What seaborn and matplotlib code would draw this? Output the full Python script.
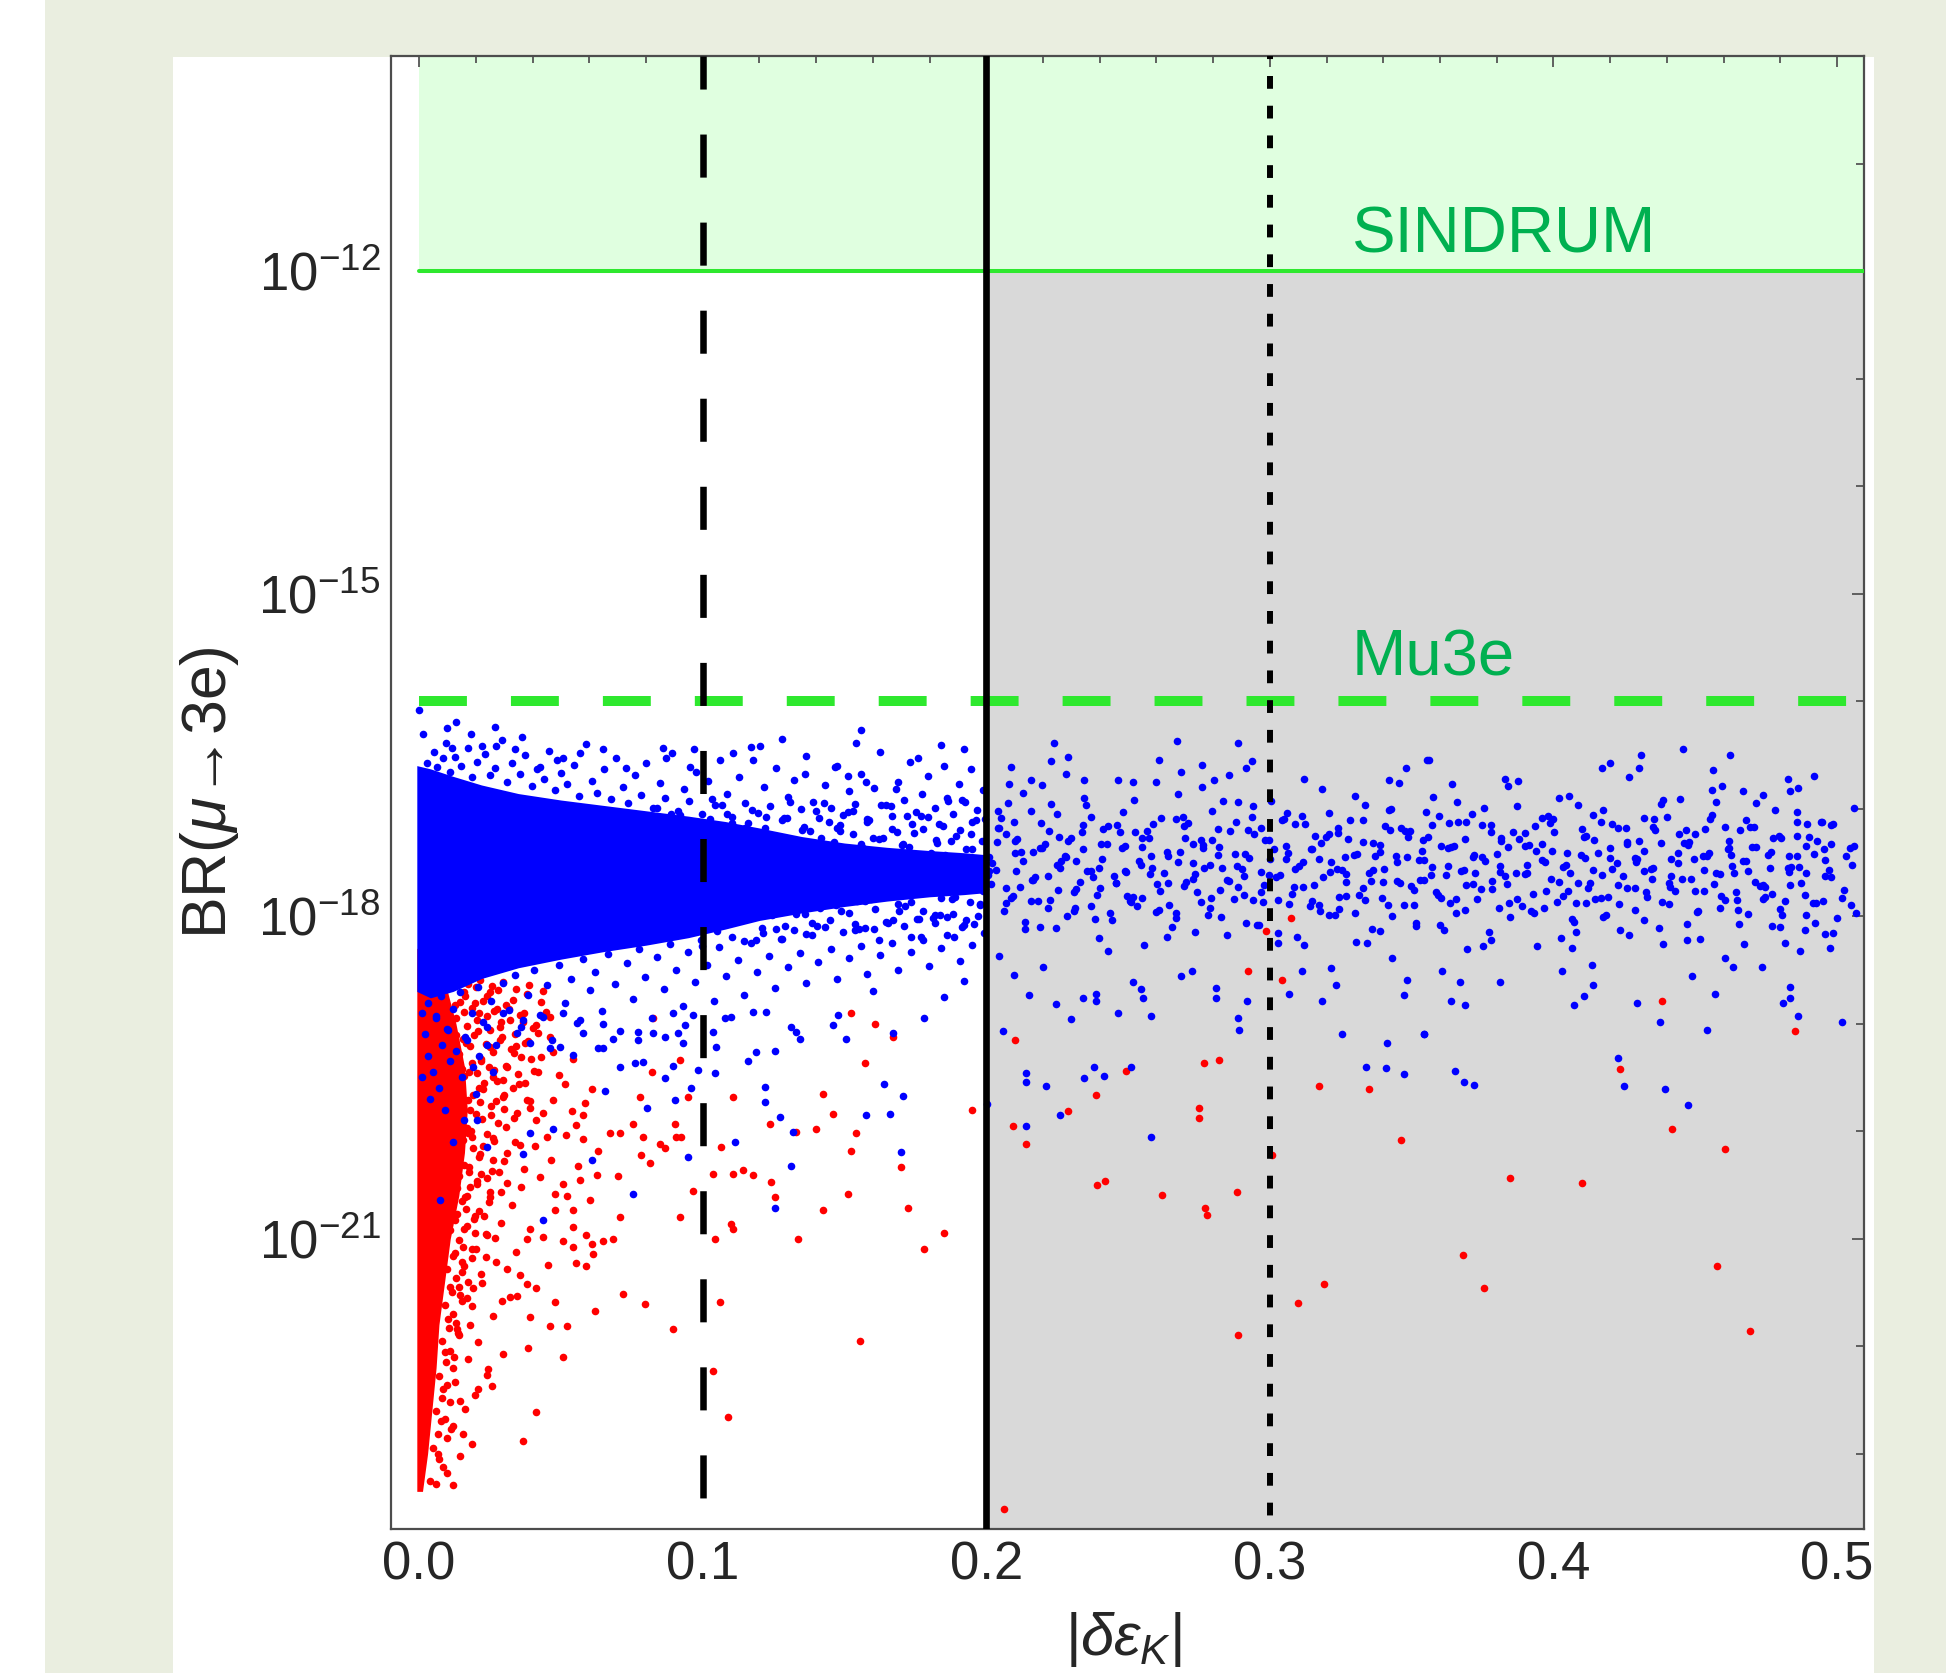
import pandas as pd
import matplotlib
matplotlib.use('Agg')
import matplotlib.pyplot as plt
from matplotlib.patches import Rectangle
from matplotlib.ticker import FixedLocator, FixedFormatter, NullFormatter
import seaborn as sns

# ---- axis ranges, limits and tick labels ----
x_range = (-0.0099, 0.5095)
exp_range = (-23.7, -10.0)          # log10 of the BR axis
sindrum_exp = -12                   # SINDRUM bound
mu3e_exp = -16                      # Mu3e reach
x_cut_lines = [0.1, 0.2, 0.3]
x_ticks = [0.0, 0.1, 0.2, 0.3, 0.4, 0.5]
x_tick_labels = ['0.0', '0.1', '0.2', '0.3', '0.4', '0.5']
y_tick_exps = [-12, -15, -18, -21]
y_tick_labels = [r'$\mathregular{10^{-12}}$', r'$\mathregular{10^{-15}}$',
                 r'$\mathregular{10^{-18}}$', r'$\mathregular{10^{-21}}$']

# ---- solid cores of the two point clouds (outline) ----
blue_core_x = [-0.0008, 0.004, 0.012, 0.022, 0.035, 0.05, 0.065, 0.08, 0.095, 0.108, 0.12, 0.135, 0.15, 0.165,
               0.18, 0.192, 0.2005]
blue_core_top = [-16.60, -16.63, -16.70, -16.78, -16.86, -16.92, -16.97, -17.02, -17.07, -17.12, -17.18, -17.26,
                 -17.32, -17.36, -17.39, -17.41, -17.43]
blue_core_bot = [-18.70, -18.76, -18.70, -18.58, -18.48, -18.40, -18.33, -18.27, -18.20, -18.12, -18.04, -17.97,
                 -17.91, -17.86, -17.82, -17.80, -17.78]

red_core_exp = [-18.30, -18.60, -19.00, -19.40, -19.80, -20.20, -20.60, -21.00, -21.40, -21.80, -22.20, -22.60, -23.00, -23.35]
red_core_right = [0.002, 0.009, 0.013, 0.016, 0.017, 0.016, 0.014, 0.011, 0.009, 0.007, 0.006, 0.0045, 0.003, 0.0012]

# ---- individual points: (|delta eps_K|, log10 BR) ----
blue_edge_upper = [
    (-0.0002, -16.08), (0.0015, -16.31), (0.0131, -16.19), (0.0268, -16.24), (0.0182, -16.31), (0.0221, -16.42),
    (0.0271, -16.42), (0.0362, -16.33), (0.0115, -16.44), (0.0338, -16.45), (0.0086, -16.53), (0.0426, -16.61),
    (0.0485, -16.55), (0.0508, -16.53), (0.0567, -16.48), (0.0649, -16.45), (0.0861, -16.44), (0.0872, -16.53),
    (0.1107, -16.48), (0.1201, -16.42), (0.1178, -16.55), (0.1559, -16.27), (0.1465, -16.61), (0.0731, -16.62),
    (0.0955, -16.61), (0.1512, -16.70), (0.1577, -16.75), (0.154, -16.39), (0.176, -16.53), (0.136, -16.68),
    (0.097, -16.45), (0.010, -16.25), (0.185, -16.60), (0.192, -16.45), (0.168, -16.82), (0.128, -16.35),
    (0.0028, -16.58), (0.0051, -16.47), (0.0063, -16.61), (0.0094, -16.39), (0.0108, -16.66), (0.0127, -16.52),
    (0.0149, -16.60), (0.0171, -16.44), (0.0186, -16.71), (0.0204, -16.57), (0.0233, -16.49), (0.0249, -16.69),
    (0.0266, -16.62), (0.0293, -16.36), (0.0311, -16.75), (0.0329, -16.58), (0.0356, -16.68), (0.0374, -16.50),
    (0.0398, -16.79), (0.0417, -16.63), (0.0441, -16.72), (0.0458, -16.46), (0.0479, -16.83), (0.0502, -16.67),
    (0.0521, -16.77), (0.0547, -16.59), (0.0563, -16.88), (0.0589, -16.40), (0.0611, -16.74), (0.0628, -16.85),
    (0.0653, -16.63), (0.0675, -16.91), (0.0694, -16.53), (0.0718, -16.80), (0.0737, -16.95), (0.0762, -16.69),
    (0.0784, -16.87), (0.0801, -16.58), (0.0826, -16.99), (0.0848, -16.76), (0.0867, -16.90), (0.0891, -16.48),
    (0.0912, -17.02), (0.0934, -16.82), (0.0953, -16.93), (0.0978, -16.66), (0.0999, -17.05), (0.1018, -16.74),
    (0.1042, -16.97), (0.1061, -16.55), (0.1086, -16.86), (0.1104, -17.08), (0.1129, -16.71), (0.1151, -16.95),
    (0.1170, -16.43), (0.1194, -17.04), (0.1215, -16.80), (0.1236, -16.98), (0.1258, -16.62), (0.1279, -17.11),
    (0.1301, -16.89), (0.1322, -16.73), (0.1345, -17.00), (0.1366, -16.51), (0.1388, -16.94), (0.1409, -17.09),
    (0.1431, -16.78), (0.1452, -16.99), (0.1474, -16.60), (0.1495, -17.06), (0.1517, -16.84), (0.1538, -16.96),
    (0.1560, -16.68), (0.1581, -17.10), (0.1603, -16.81), (0.1624, -16.47), (0.1646, -16.97), (0.1667, -17.07),
    (0.1689, -16.75), (0.1710, -16.92), (0.1732, -16.57), (0.1753, -17.03), (0.1775, -16.86), (0.1796, -16.70),
    (0.1818, -16.99), (0.1839, -16.41), (0.1861, -16.90), (0.1882, -17.05), (0.1904, -16.77), (0.1925, -16.94),
    (0.1947, -16.63), (0.1968, -17.01), (0.1990, -16.83),
]

blue_edge_lower = [
    (0.0031, -18.81), (0.0058, -18.93), (0.0079, -18.74), (0.0102, -19.06), (0.0118, -18.86), (0.0143, -18.71),
    (0.0161, -19.12), (0.0187, -18.90), (0.0209, -18.66), (0.0226, -18.98), (0.0254, -18.79), (0.0272, -19.20),
    (0.0297, -18.62), (0.0318, -18.87), (0.0340, -18.55), (0.0361, -19.03), (0.0385, -18.73), (0.0406, -18.50),
    (0.0427, -18.92), (0.0450, -18.64), (0.0469, -19.15), (0.0494, -18.45), (0.0513, -18.81), (0.0537, -18.58),
    (0.0558, -18.99), (0.0579, -18.40), (0.0602, -18.69), (0.0622, -18.52), (0.0646, -18.88), (0.0665, -18.35),
    (0.0690, -18.63), (0.0709, -19.07), (0.0733, -18.44), (0.0754, -18.77), (0.0776, -18.31), (0.0797, -18.57),
    (0.0821, -18.95), (0.0840, -18.38), (0.0864, -18.68), (0.0884, -18.26), (0.0907, -18.50), (0.0929, -18.84),
    (0.0950, -18.33), (0.0972, -18.61), (0.0995, -18.22), (0.1015, -18.45), (0.1039, -18.79), (0.1059, -18.29),
    (0.1082, -18.56), (0.1103, -18.19), (0.1126, -18.41), (0.1147, -18.73), (0.1169, -18.25), (0.1191, -18.52),
    (0.1213, -18.16), (0.1235, -18.37), (0.1256, -18.67), (0.1278, -18.21), (0.1300, -18.47), (0.1321, -18.13),
    (0.1343, -18.34), (0.1365, -18.62), (0.1386, -18.18), (0.1408, -18.43), (0.1430, -18.10), (0.1451, -18.31),
    (0.1473, -18.58), (0.1495, -18.15), (0.1516, -18.39), (0.1538, -18.07), (0.1560, -18.28), (0.1581, -18.54),
    (0.1603, -18.12), (0.1625, -18.36), (0.1646, -18.05), (0.1668, -18.25), (0.1690, -18.50), (0.1711, -18.09),
    (0.1733, -18.33), (0.1755, -18.03), (0.1776, -18.22), (0.1798, -18.46), (0.1820, -18.06), (0.1841, -18.30),
    (0.1863, -18.01), (0.1885, -18.19), (0.1906, -18.42), (0.1928, -18.04), (0.1950, -18.27), (0.1971, -18.00),
    (0.1993, -18.16),
    (0.001, -18.90), (0.002, -19.10), (0.003, -19.30), (0.001, -19.50), (0.004, -19.70), (0.006, -18.95),
    (0.008, -19.20), (0.005, -19.45), (0.010, -19.05), (0.011, -19.35), (0.007, -19.60), (0.013, -19.25),
    (0.009, -19.80), (0.015, -19.50), (0.017, -19.15), (0.019, -19.40), (0.021, -19.30), (0.024, -19.20),
    (0.026, -19.45), (0.016, -19.90), (0.012, -20.10), (0.020, -19.65),
]

blue_sparse_near = [
    (0.0773, -19.08), (0.0773, -19.15), (0.0825, -19.09), (0.0866, -19.12), (0.0913, -19.09), (0.0937, -19.01),
    (0.0931, -19.18), (0.0896, -18.90), (0.0966, -18.92), (0.0684, -19.14), (0.0632, -19.23), (0.0649, -19.23),
    (0.0544, -19.29), (0.0579, -19.09), (0.0497, -19.22), (0.0461, -19.23), (0.0708, -19.40), (0.0761, -19.37),
    (0.0790, -19.36), (0.0896, -19.39), (0.0866, -19.51), (0.0655, -19.63), (0.0802, -19.78), (0.0902, -19.71),
    (0.0960, -19.60), (0.0984, -19.43), (0.1037, -19.08), (0.1048, -19.22), (0.1043, -19.46), (0.1078, -18.95),
    (0.1101, -18.94), (0.1178, -18.89), (0.1225, -18.89), (0.1189, -19.26), (0.1254, -19.25), (0.1160, -19.35),
    (0.1219, -19.59), (0.1219, -19.73), (0.1271, -19.87), (0.1313, -19.03), (0.1330, -19.08), (0.1342, -19.14),
    (0.1318, -20.01), (0.1313, -20.32), (0.1254, -20.71), (0.1113, -20.10), (0.0949, -20.24), (0.0755, -20.58),
    (0.0608, -20.27), (0.0473, -19.98), (0.0438, -20.83), (0.1459, -19.01), (0.1477, -18.92), (0.1506, -19.14),
    (0.1641, -19.56), (0.1659, -19.84), (0.1577, -19.85), (0.1706, -19.67), (0.1700, -20.19), (0.1671, -19.09),
    (0.0344, -19.09), (0.0391, -19.18), (0.0297, -18.90), (0.0238, -19.03), (0.0367, -18.97), (0.0438, -18.94),
    (0.0508, -18.90), (0.0567, -18.97), (0.0649, -19.00), (0.0391, -20.02), (0.0367, -20.21), (0.0238, -20.15),
    (0.0203, -19.90), (0.0074, -20.64), (0.185, -18.75), (0.178, -18.95), (0.192, -18.60), (0.160, -18.70),
]

# dense band between 0.075 and 0.2 (three sweeps)
blue_mid_x1 = [
    0.0752, 0.0766, 0.0781, 0.0793, 0.0810, 0.0822, 0.0838, 0.0851, 0.0864, 0.0880, 0.0893, 0.0907, 0.0921, 0.0936,
    0.0949, 0.0965, 0.0978, 0.0991, 0.1006, 0.1020, 0.1033, 0.1049, 0.1062, 0.1076, 0.1090, 0.1104, 0.1118, 0.1133,
    0.1146, 0.1160, 0.1175, 0.1188, 0.1202, 0.1217, 0.1231, 0.1244, 0.1259, 0.1273, 0.1286, 0.1301, 0.1315, 0.1328,
    0.1343, 0.1357, 0.1370, 0.1385, 0.1399, 0.1412, 0.1427, 0.1441, 0.1454, 0.1469, 0.1483, 0.1496, 0.1511, 0.1525,
    0.1538, 0.1553, 0.1567, 0.1580, 0.1595, 0.1609, 0.1622, 0.1637, 0.1651, 0.1664, 0.1679, 0.1693, 0.1706, 0.1721,
    0.1735, 0.1748, 0.1763, 0.1777, 0.1790, 0.1805, 0.1819, 0.1832, 0.1847, 0.1861, 0.1874, 0.1889, 0.1903, 0.1916,
    0.1931, 0.1945, 0.1958, 0.1973, 0.1987, 0.1996,
]
blue_mid_exp1 = [
    -17.35, -17.88, -17.12, -17.57, -18.02, -17.44, -16.99, -17.70, -17.26, -17.93, -17.51, -18.17, -17.06, -17.63,
    -17.39, -17.85, -17.19, -18.09, -17.48, -17.75, -16.91, -17.58, -17.30, -18.00, -17.67, -17.13, -17.81, -17.42,
    -18.23, -17.54, -17.01, -17.72, -17.37, -17.94, -17.24, -17.61, -18.12, -17.46, -17.09, -17.79, -17.32, -17.98,
    -17.52, -17.17, -17.87, -18.06, -17.40, -17.66, -16.95, -17.74, -17.44, -17.90, -17.21, -17.66, -17.03, -17.78,
    -18.13, -17.36, -17.58, -17.12, -17.84, -17.49, -18.22, -17.27, -17.70, -16.98, -17.61, -17.95, -17.33, -17.07,
    -17.87, -17.52, -18.03, -17.19, -17.74, -17.41, -17.99, -17.14, -17.63, -18.18, -17.30, -17.82, -17.55, -16.92,
    -17.69, -17.24, -18.07, -17.47, -17.77, -17.10,
]
blue_mid_x2 = [
    0.0759, 0.0774, 0.0788, 0.0803, 0.0815, 0.0830, 0.0845, 0.0857, 0.0872, 0.0887, 0.0899, 0.0914, 0.0929, 0.0941,
    0.0956, 0.0971, 0.0983, 0.0998, 0.1013, 0.1025, 0.1040, 0.1055, 0.1067, 0.1082, 0.1097, 0.1109, 0.1124, 0.1139,
    0.1151, 0.1166, 0.1181, 0.1193, 0.1208, 0.1223, 0.1235, 0.1250, 0.1265, 0.1277, 0.1292, 0.1307, 0.1319, 0.1334,
    0.1349, 0.1361, 0.1376, 0.1391, 0.1403, 0.1418, 0.1433, 0.1445, 0.1460, 0.1475, 0.1487, 0.1502, 0.1517, 0.1529,
    0.1544, 0.1559, 0.1571, 0.1586, 0.1601, 0.1613, 0.1628, 0.1643, 0.1655, 0.1670, 0.1685, 0.1697, 0.1712, 0.1727,
    0.1739, 0.1754, 0.1769, 0.1781, 0.1796, 0.1811, 0.1823, 0.1838, 0.1853, 0.1865, 0.1880, 0.1895, 0.1907, 0.1922,
    0.1937, 0.1949, 0.1964, 0.1979, 0.1991,
]
blue_mid_exp2 = [
    -17.69, -17.26, -18.06, -17.48, -17.15, -17.83, -17.37, -17.97, -17.57, -17.05, -17.75, -18.15, -17.42, -17.63,
    -17.22, -17.91, -17.34, -18.28, -17.50, -17.10, -17.81, -17.60, -16.97, -17.88, -17.29, -18.01, -17.46, -17.71,
    -17.18, -17.94, -17.39, -17.56, -18.11, -17.08, -17.77, -17.32, -17.65, -18.21, -17.44, -16.94, -17.85, -17.53,
    -17.20, -17.98, -17.36, -17.73, -18.09, -17.27, -17.59, -17.12, -17.62, -17.18, -17.95, -17.41, -17.73, -17.02,
    -17.86, -17.33, -18.11, -17.55, -17.27, -17.68, -16.97, -17.80, -17.47, -18.04, -17.22, -17.59, -17.91, -17.36,
    -17.14, -17.77, -18.19, -17.50, -17.08, -17.65, -17.29, -17.99, -17.43, -16.93, -17.84, -17.56, -17.20, -18.08,
    -17.71, -17.38, -17.11, -17.89, -17.53,
]
blue_mid_x3 = [
    0.1003, 0.1017, 0.1024, 0.1036, 0.1051, 0.1058, 0.1071, 0.1085, 0.1093, 0.1104, 0.1119, 0.1127, 0.1139, 0.1153,
    0.1160, 0.1174, 0.1187, 0.1195, 0.1208, 0.1221, 0.1229, 0.1243, 0.1256, 0.1263, 0.1276, 0.1290, 0.1298, 0.1311,
    0.1324, 0.1332, 0.1345, 0.1359, 0.1366, 0.1379, 0.1393, 0.1401, 0.1414, 0.1427, 0.1435, 0.1448, 0.1462, 0.1469,
    0.1483, 0.1496, 0.1504, 0.1517, 0.1530, 0.1538, 0.1551, 0.1565, 0.1572, 0.1586, 0.1599, 0.1607, 0.1620, 0.1633,
    0.1641, 0.1654, 0.1668, 0.1675, 0.1689, 0.1702, 0.1710, 0.1723, 0.1736, 0.1744, 0.1757, 0.1771, 0.1778, 0.1792,
    0.1805, 0.1813, 0.1826, 0.1839, 0.1847, 0.1860, 0.1874, 0.1881, 0.1895, 0.1908, 0.1916, 0.1929, 0.1942, 0.1950,
    0.1963, 0.1977, 0.1984, 0.1997,
]
blue_mid_exp3 = [
    -17.48, -17.91, -17.22, -17.66, -18.14, -17.35, -17.79, -17.05, -17.57, -18.01, -17.29, -17.72, -17.43, -17.96,
    -17.13, -17.61, -18.22, -17.39, -17.84, -17.18, -17.53, -17.99, -17.26, -17.70, -17.45, -18.09, -17.09, -17.63,
    -17.88, -17.33, -17.76, -17.50, -18.17, -17.21, -17.67, -17.02, -17.92, -17.41, -17.58, -18.04, -17.31, -17.81,
    -17.15, -17.69, -17.46, -17.97, -17.24, -17.60, -18.12, -17.37, -17.86, -17.11, -17.55, -17.93, -17.28, -17.74,
    -17.42, -18.06, -17.19, -17.64, -17.89, -17.34, -17.78, -17.52, -18.19, -17.23, -17.68, -17.07, -17.95, -17.44,
    -17.59, -18.02, -17.32, -17.83, -17.16, -17.71, -17.47, -17.98, -17.25, -17.62, -18.10, -17.38, -17.87, -17.12,
    -17.56, -17.90, -17.30, -17.75,
]

# band beyond 0.2 (hand-read sweeps)
blue_band_far = [
    (0.201, -17.45), (0.204, -17.02), (0.207, -17.88), (0.210, -17.30), (0.213, -16.85), (0.216, -17.66),
    (0.219, -18.10), (0.222, -17.21), (0.225, -17.52), (0.228, -16.68), (0.231, -17.95), (0.234, -17.38),
    (0.237, -17.08), (0.240, -17.74), (0.243, -18.32), (0.246, -17.15), (0.249, -17.58), (0.252, -16.92),
    (0.255, -17.83), (0.258, -17.44), (0.261, -16.55), (0.264, -17.69), (0.267, -18.02), (0.270, -17.27),
    (0.273, -17.51), (0.276, -16.80), (0.279, -17.92), (0.282, -17.36), (0.285, -18.18), (0.288, -17.12),
    (0.291, -17.63), (0.294, -16.98), (0.297, -17.78), (0.300, -17.47), (0.303, -18.25), (0.306, -17.04),
    (0.309, -17.56), (0.312, -16.72), (0.315, -17.86), (0.318, -17.32), (0.321, -17.99), (0.324, -17.18),
    (0.327, -17.61), (0.330, -16.88), (0.333, -17.74), (0.336, -18.12), (0.339, -17.40), (0.342, -17.01),
    (0.345, -17.67), (0.348, -16.62), (0.351, -17.90), (0.354, -17.29), (0.357, -17.54), (0.360, -18.08),
    (0.363, -17.13), (0.366, -16.94), (0.369, -17.71), (0.372, -17.43), (0.375, -18.28), (0.378, -17.22),
    (0.381, -17.59), (0.384, -16.79), (0.387, -17.84), (0.390, -17.35), (0.393, -17.97), (0.396, -17.09),
    (0.399, -17.65), (0.402, -16.90), (0.405, -17.77), (0.408, -18.15), (0.411, -17.46), (0.414, -17.06),
    (0.417, -17.62), (0.420, -16.58), (0.423, -17.89), (0.426, -17.31), (0.429, -17.50), (0.432, -18.04),
    (0.435, -17.17), (0.438, -16.96), (0.441, -17.73), (0.444, -17.41), (0.447, -18.22), (0.450, -17.24),
    (0.453, -17.57), (0.456, -16.83), (0.459, -17.81), (0.462, -17.37), (0.465, -17.94), (0.468, -17.11),
    (0.471, -17.68), (0.474, -16.87), (0.477, -17.79), (0.480, -18.10), (0.483, -17.44), (0.486, -17.03),
    (0.489, -17.60), (0.492, -16.70), (0.495, -17.86), (0.498, -17.33),
    (0.2015, -17.70), (0.2045, -17.18), (0.2075, -16.95), (0.2105, -17.58), (0.2135, -18.12), (0.2165, -17.40),
    (0.2195, -16.78), (0.2225, -17.85), (0.2255, -17.26), (0.2285, -18.00), (0.2315, -17.49), (0.2345, -16.90),
    (0.2375, -17.64), (0.2405, -17.33), (0.2435, -17.97), (0.2465, -16.73), (0.2495, -17.81), (0.2525, -17.22),
    (0.2555, -18.27), (0.2585, -17.55), (0.2615, -17.09), (0.2645, -17.90), (0.2675, -16.86), (0.2705, -17.68),
    (0.2735, -18.15), (0.2765, -17.37), (0.2795, -17.02), (0.2825, -17.76), (0.2855, -16.69), (0.2885, -17.53),
    (0.2915, -18.06), (0.2945, -17.24), (0.2975, -17.87), (0.3005, -16.93), (0.3035, -17.62), (0.3065, -17.41),
    (0.3095, -18.19), (0.3125, -17.14), (0.3155, -17.71), (0.3185, -16.82), (0.3215, -17.50), (0.3245, -17.93),
    (0.3275, -17.28), (0.3305, -18.24), (0.3335, -16.97), (0.3365, -17.57), (0.3395, -17.83), (0.3425, -17.20),
    (0.3455, -16.76), (0.3485, -17.45), (0.3515, -18.09), (0.3545, -17.66), (0.3575, -16.89), (0.3605, -17.35),
    (0.3635, -17.88), (0.3665, -17.12), (0.3695, -18.31), (0.3725, -17.60), (0.3755, -16.99), (0.3785, -17.75),
    (0.3815, -17.30), (0.3845, -18.01), (0.3875, -16.74), (0.3905, -17.52), (0.3935, -17.16), (0.3965, -17.92),
    (0.3995, -17.39), (0.4025, -18.20), (0.4055, -16.88), (0.4085, -17.69), (0.4115, -17.25), (0.4145, -17.84),
    (0.4175, -17.01), (0.4205, -17.56), (0.4235, -18.13), (0.4265, -16.71), (0.4295, -17.47), (0.4325, -17.78),
    (0.4355, -17.10), (0.4385, -18.26), (0.4415, -17.63), (0.4445, -16.91), (0.4475, -17.34), (0.4505, -17.96),
    (0.4535, -17.19), (0.4565, -17.70), (0.4595, -16.79), (0.4625, -17.43), (0.4655, -18.07), (0.4685, -17.58),
    (0.4715, -16.95), (0.4745, -17.82), (0.4775, -17.27), (0.4805, -17.99), (0.4835, -16.84), (0.4865, -17.54),
    (0.4895, -17.14), (0.4925, -17.88), (0.4955, -17.38), (0.4985, -18.16),
    (0.2008, -17.58), (0.2038, -17.31), (0.2068, -17.74), (0.2098, -17.12), (0.2128, -17.49), (0.2158, -17.86),
    (0.2188, -17.37), (0.2218, -17.63), (0.2248, -17.05), (0.2278, -17.44), (0.2308, -17.78), (0.2338, -17.22),
    (0.2368, -17.91), (0.2398, -17.55), (0.2428, -17.16), (0.2458, -17.69), (0.2488, -17.35), (0.2518, -17.82),
    (0.2548, -17.27), (0.2578, -17.61), (0.2608, -17.94), (0.2638, -17.40), (0.2668, -17.10), (0.2698, -17.72),
    (0.2728, -17.33), (0.2758, -17.87), (0.2788, -17.52), (0.2818, -17.19), (0.2848, -17.66), (0.2878, -17.42),
    (0.2908, -17.80), (0.2938, -17.08), (0.2968, -17.59), (0.2998, -17.29), (0.3028, -17.85), (0.3058, -17.47),
    (0.3088, -17.14), (0.3118, -17.73), (0.3148, -17.38), (0.3178, -17.95), (0.3208, -17.24), (0.3238, -17.56),
    (0.3268, -17.81), (0.3298, -17.43), (0.3328, -17.11), (0.3358, -17.67), (0.3388, -17.34), (0.3418, -17.90),
    (0.3448, -17.50), (0.3478, -17.21), (0.3508, -17.76), (0.3538, -17.39), (0.3568, -17.62), (0.3598, -17.07),
    (0.3628, -17.53), (0.3658, -17.84), (0.3688, -17.28), (0.3718, -17.70), (0.3748, -17.45), (0.3778, -17.15),
    (0.3808, -17.92), (0.3838, -17.36), (0.3868, -17.60), (0.3898, -17.23), (0.3928, -17.79), (0.3958, -17.48),
    (0.3988, -17.13), (0.4018, -17.68), (0.4048, -17.41), (0.4078, -17.88), (0.4108, -17.26), (0.4138, -17.57),
    (0.4168, -17.83), (0.4198, -17.37), (0.4228, -17.18), (0.4258, -17.74), (0.4288, -17.46), (0.4318, -17.09),
    (0.4348, -17.65), (0.4378, -17.32), (0.4408, -17.89), (0.4438, -17.51), (0.4468, -17.20), (0.4498, -17.77),
    (0.4528, -17.44), (0.4558, -17.06), (0.4588, -17.61), (0.4618, -17.30), (0.4648, -17.85), (0.4678, -17.49),
    (0.4708, -17.17), (0.4738, -17.71), (0.4768, -17.40), (0.4798, -17.93), (0.4828, -17.55), (0.4858, -17.25),
    (0.4888, -17.80), (0.4918, -17.42), (0.4948, -17.12), (0.4978, -17.64), (0.5050, -17.90), (0.5060, -17.35),
]
blue_far_x1 = [
    0.2005, 0.2041, 0.2063, 0.2102, 0.2119, 0.2158, 0.2183, 0.2207, 0.2246, 0.2261, 0.2299, 0.2331, 0.2352, 0.2390,
    0.2408, 0.2445, 0.2473, 0.2494, 0.2531, 0.2549, 0.2588, 0.2613, 0.2637, 0.2676, 0.2692, 0.2730, 0.2757, 0.2781,
    0.2818, 0.2836, 0.2873, 0.2902, 0.2924, 0.2960, 0.2979, 0.3016, 0.3044, 0.3066, 0.3104, 0.3121, 0.3158, 0.3187,
    0.3209, 0.3245, 0.3265, 0.3301, 0.3330, 0.3351, 0.3389, 0.3407, 0.3444, 0.3472, 0.3495, 0.3531, 0.3550, 0.3586,
    0.3615, 0.3637, 0.3674, 0.3693, 0.3729, 0.3758, 0.3780, 0.3816, 0.3836, 0.3872, 0.3901, 0.3922, 0.3959, 0.3979,
    0.4014, 0.4044, 0.4065, 0.4101, 0.4122, 0.4157, 0.4186, 0.4208, 0.4244, 0.4265, 0.4300, 0.4329, 0.4351, 0.4387,
    0.4408, 0.4443, 0.4472, 0.4494, 0.4530, 0.4551, 0.4586, 0.4615, 0.4637, 0.4673, 0.4694, 0.4729, 0.4758, 0.4780,
    0.4816, 0.4837, 0.4872, 0.4901, 0.4923, 0.4959, 0.4980, 0.5016, 0.5045, 0.5068,
]
blue_far_exp1 = [
    -17.62, -17.18, -17.95, -17.41, -17.73, -17.02, -17.86, -17.33, -18.11, -17.55, -17.27, -17.68, -16.97, -17.80,
    -17.47, -18.04, -17.22, -17.59, -17.91, -17.36, -17.14, -17.77, -18.19, -17.50, -17.08, -17.65, -17.29, -17.99,
    -17.43, -16.93, -17.84, -17.56, -17.20, -18.08, -17.71, -17.38, -17.11, -17.89, -17.53, -18.27, -17.25, -17.64,
    -17.04, -17.82, -17.45, -17.97, -17.31, -17.60, -18.14, -17.16, -17.44, -17.90, -17.21, -17.66, -17.03, -17.78,
    -18.13, -17.36, -17.58, -17.12, -17.84, -17.49, -18.22, -17.27, -17.70, -16.98, -17.61, -17.95, -17.33, -17.07,
    -17.87, -17.52, -18.03, -17.19, -17.74, -17.41, -17.99, -17.14, -17.63, -18.18, -17.30, -17.82, -17.55, -16.92,
    -17.69, -17.24, -18.07, -17.47, -17.77, -17.10, -17.92, -17.38, -17.60, -18.26, -17.17, -17.72, -17.43, -17.01,
    -17.86, -17.54, -17.69, -17.26, -18.06, -17.48, -17.15, -17.83, -17.37, -17.97,
]
blue_far_x2 = [
    0.2021, 0.2052, 0.2088, 0.2110, 0.2137, 0.2171, 0.2196, 0.2228, 0.2254, 0.2280, 0.2314, 0.2342, 0.2369, 0.2397,
    0.2426, 0.2457, 0.2482, 0.2511, 0.2540, 0.2566, 0.2598, 0.2625, 0.2655, 0.2683, 0.2711, 0.2743, 0.2769, 0.2797,
    0.2827, 0.2855, 0.2887, 0.2913, 0.2941, 0.2970, 0.2998, 0.3030, 0.3056, 0.3085, 0.3113, 0.3142, 0.3173, 0.3199,
    0.3228, 0.3256, 0.3284, 0.3316, 0.3342, 0.3371, 0.3399, 0.3428, 0.3460, 0.3486, 0.3514, 0.3542, 0.3571, 0.3603,
    0.3628, 0.3657, 0.3685, 0.3714, 0.3746, 0.3771, 0.3800, 0.3828, 0.3857, 0.3889, 0.3914, 0.3943, 0.3971, 0.4000,
    0.4032, 0.4057, 0.4086, 0.4114, 0.4143, 0.4175, 0.4200, 0.4229, 0.4257, 0.4286, 0.4318, 0.4343, 0.4372, 0.4400,
    0.4429, 0.4461, 0.4486, 0.4515, 0.4543, 0.4572, 0.4604, 0.4629, 0.4658, 0.4686, 0.4715, 0.4747, 0.4772, 0.4801,
    0.4829, 0.4858, 0.4890, 0.4915, 0.4944, 0.4972, 0.5001, 0.5033, 0.5058,
]
blue_far_exp2 = [
    -17.51, -17.09, -17.83, -17.28, -18.05, -17.64, -17.37, -16.96, -17.76, -17.45, -17.92, -17.15, -17.58, -18.20,
    -17.33, -17.69, -17.03, -17.87, -17.49, -17.21, -17.96, -17.60, -18.10, -17.40, -17.13, -17.78, -17.55, -17.29,
    -18.01, -17.67, -16.94, -17.42, -17.85, -17.18, -17.62, -18.16, -17.35, -17.73, -17.07, -17.91, -17.47, -17.26,
    -17.99, -17.57, -17.11, -17.80, -18.25, -17.44, -17.68, -17.00, -17.69, -17.26, -18.06, -17.48, -17.15, -17.83,
    -17.37, -17.97, -17.57, -17.05, -17.75, -18.15, -17.42, -17.63, -17.22, -17.91, -17.34, -18.28, -17.50, -17.10,
    -17.81, -17.60, -16.97, -17.88, -17.29, -18.01, -17.46, -17.71, -17.18, -17.94, -17.39, -17.56, -18.11, -17.08,
    -17.77, -17.32, -17.65, -18.21, -17.44, -16.94, -17.85, -17.53, -17.20, -17.98, -17.36, -17.73, -18.09, -17.27,
    -17.59, -17.12, -17.35, -17.88, -17.12, -17.57, -18.02, -17.44, -16.99,
]
blue_far_x3 = [
    0.2033, 0.2069, 0.2095, 0.2124, 0.2166, 0.2192, 0.2219, 0.2262, 0.2287, 0.2318, 0.2356, 0.2384, 0.2412, 0.2451,
    0.2478, 0.2507, 0.2546, 0.2573, 0.2603, 0.2641, 0.2668, 0.2698, 0.2737, 0.2763, 0.2793, 0.2832, 0.2859, 0.2889,
    0.2927, 0.2954, 0.2984, 0.3022, 0.3049, 0.3079, 0.3117, 0.3144, 0.3175, 0.3213, 0.3240, 0.3270, 0.3308, 0.3335,
    0.3365, 0.3403, 0.3430, 0.3461, 0.3499, 0.3526, 0.3556, 0.3594, 0.3621, 0.3651, 0.3689, 0.3716, 0.3747, 0.3785,
    0.3812, 0.3842, 0.3880, 0.3907, 0.3937, 0.3975, 0.4002, 0.4033, 0.4071, 0.4098, 0.4128, 0.4166, 0.4193, 0.4223,
    0.4261, 0.4288, 0.4319, 0.4357, 0.4384, 0.4414, 0.4452, 0.4479, 0.4509, 0.4547, 0.4574, 0.4605, 0.4643, 0.4670,
    0.4700, 0.4738, 0.4765, 0.4795, 0.4833, 0.4860, 0.4891, 0.4929, 0.4956, 0.4986, 0.5024, 0.5051,
]
blue_far_exp3 = [
    -17.57, -17.24, -17.81, -17.40, -17.66, -17.13, -17.92, -17.49, -17.30, -17.75, -17.58, -18.03, -17.19, -17.63,
    -17.37, -17.86, -17.52, -17.27, -17.70, -17.44, -17.97, -17.16, -17.61, -17.34, -17.83, -17.55, -17.21, -17.73,
    -17.46, -18.08, -17.29, -17.64, -17.10, -17.79, -17.50, -17.38, -17.90, -17.59, -17.23, -17.68, -17.42, -17.85,
    -17.32, -17.56, -18.00, -17.18, -17.72, -17.48, -17.26, -17.80, -17.62, -17.35, -17.94, -17.45, -17.15, -17.67,
    -17.53, -17.88, -17.28, -17.60, -17.39, -17.77, -17.22, -17.54, -18.05, -17.43, -17.69, -17.12, -17.82, -17.51,
    -17.33, -17.74, -17.58, -17.20, -17.87, -17.47, -17.65, -17.31, -17.95, -17.41, -17.60, -17.17, -17.78, -17.49,
    -17.36, -17.84, -17.55, -17.25, -17.71, -17.44, -17.99, -17.30, -17.63, -17.14, -17.76, -17.52,
]

blue_outer_far = [
    (0.3560, -16.55), (0.4458, -16.45), (0.4623, -16.50), (0.4309, -16.50), (0.4171, -16.62), (0.4300, -16.62),
    (0.4564, -16.64), (0.3830, -16.72), (0.3642, -16.77), (0.4826, -16.72), (0.4863, -16.81), (0.4670, -16.84),
    (0.2240, -16.39), (0.2674, -16.37), (0.2886, -16.39), (0.2287, -16.52), (0.2087, -16.61), (0.2228, -16.56),
    (0.2938, -16.56), (0.2915, -16.62), (0.2762, -16.59), (0.2686, -16.66), (0.3555, -16.55), (0.3420, -16.73),
    (0.2803, -16.73), (0.2346, -16.73), (0.2158, -16.73), (0.2081, -16.77), (0.2516, -16.75), (0.2598, -16.75),
    (0.2058, -19.07), (0.2140, -19.46), (0.2140, -19.54), (0.2211, -19.58), (0.2346, -19.51), (0.2381, -19.40),
    (0.2416, -19.49), (0.2510, -19.40), (0.2580, -20.05), (0.2140, -19.95), (0.2299, -18.96), (0.2463, -18.90),
    (0.2580, -18.93), (0.2152, -18.73), (0.2246, -18.82), (0.2340, -18.76), (0.2387, -18.72), (0.2387, -18.79),
    (0.2516, -18.61), (0.2545, -18.68), (0.2551, -18.76), (0.2686, -18.56), (0.2727, -18.51), (0.2809, -18.67),
    (0.2809, -18.76), (0.2886, -18.95), (0.2892, -19.06), (0.2921, -18.79), (0.3068, -18.72), (0.3185, -18.79),
    (0.3232, -18.64), (0.3255, -19.10), (0.3414, -19.18), (0.3338, -19.40), (0.3408, -19.41), (0.3473, -19.47),
    (0.3543, -19.10), (0.3484, -18.59), (0.3473, -18.73), (0.3432, -18.39), (0.3214, -18.48), (0.3115, -18.51),
    (0.2199, -18.47), (0.2099, -18.55), (0.2046, -18.37), (0.3607, -18.51), (0.3672, -18.61), (0.3813, -18.61),
    (0.3637, -18.79), (0.3689, -18.83), (0.3543, -19.10), (0.3654, -19.44), (0.3683, -19.54), (0.3719, -19.57),
    (0.4030, -18.51), (0.4135, -18.45), (0.4141, -18.64), (0.4106, -18.74), (0.4071, -18.83), (0.4065, -18.30),
    (0.4294, -18.81), (0.4376, -18.98), (0.4227, -19.32), (0.4247, -19.58), (0.4394, -19.61), (0.4476, -19.76),
    (0.4488, -18.56), (0.4570, -18.72), (0.4541, -19.06), (0.4605, -18.39), (0.4634, -18.47), (0.4734, -18.47),
    (0.4811, -18.81), (0.4834, -18.76), (0.4834, -18.66), (0.4863, -18.93), (0.4816, -18.25), (0.4869, -18.32),
    (0.4975, -18.30), (0.4957, -18.17), (0.5018, -18.98), (0.4887, -18.13), (0.2003, -19.75), (0.2260, -19.85),
]

red_near = [
    (0.012, -18.62), (0.016, -18.71), (0.020, -18.66), (0.024, -18.74), (0.028, -18.69), (0.033, -18.78),
    (0.038, -18.72), (0.043, -18.80), (0.013, -18.95), (0.017, -19.02), (0.021, -18.90), (0.025, -19.06),
    (0.029, -18.98), (0.034, -19.10), (0.040, -19.04), (0.046, -19.12), (0.014, -19.28), (0.018, -19.21),
    (0.022, -19.35), (0.026, -19.26), (0.031, -19.40), (0.036, -19.31), (0.042, -19.45), (0.013, -19.58),
    (0.016, -19.49), (0.019, -19.66), (0.023, -19.55), (0.027, -19.72), (0.033, -19.60), (0.039, -19.78),
    (0.014, -19.88), (0.017, -19.97), (0.020, -19.84), (0.024, -20.03), (0.028, -19.92), (0.034, -20.10),
    (0.045, -20.05), (0.013, -20.22), (0.016, -20.31), (0.019, -20.16), (0.022, -20.40), (0.026, -20.27),
    (0.031, -20.48), (0.037, -20.35), (0.012, -20.56), (0.015, -20.65), (0.018, -20.52), (0.021, -20.74),
    (0.025, -20.61), (0.029, -20.85), (0.011, -20.92), (0.014, -21.01), (0.017, -20.88), (0.020, -21.10),
    (0.024, -20.97), (0.027, -21.22), (0.010, -21.28), (0.013, -21.37), (0.016, -21.25), (0.019, -21.46),
    (0.022, -21.33), (0.009, -21.62), (0.012, -21.70), (0.015, -21.58), (0.018, -21.80), (0.008, -21.95),
    (0.011, -22.04), (0.014, -21.90), (0.007, -22.28), (0.010, -22.36), (0.006, -22.60), (0.009, -22.68),
    (0.005, -22.95), (0.007, -23.05), (0.004, -23.25),
    (0.0145, -18.80), (0.0185, -18.85), (0.0225, -18.79), (0.0265, -18.88), (0.0305, -18.83), (0.0355, -18.92),
    (0.0155, -19.14), (0.0195, -19.11), (0.0235, -19.19), (0.0285, -19.15), (0.0325, -19.24), (0.0375, -19.18),
    (0.0150, -19.42), (0.0205, -19.46), (0.0245, -19.40), (0.0295, -19.52), (0.0350, -19.47), (0.0150, -19.76),
    (0.0180, -19.80), (0.0215, -19.73), (0.0255, -19.85), (0.0300, -19.79), (0.0155, -20.08), (0.0185, -20.05),
    (0.0225, -20.14), (0.0265, -20.09), (0.0310, -20.20), (0.0140, -20.42), (0.0175, -20.38), (0.0205, -20.46),
    (0.0240, -20.44), (0.0135, -20.77), (0.0165, -20.72), (0.0195, -20.82), (0.0230, -20.79), (0.0125, -21.13),
    (0.0155, -21.08), (0.0185, -21.18), (0.0115, -21.50), (0.0140, -21.45), (0.0170, -21.55), (0.0105, -21.83),
    (0.0130, -21.78), (0.0095, -22.15), (0.0120, -22.20), (0.0080, -22.48), (0.0065, -22.82),
    (0.0162, -18.74), (0.0203, -18.97), (0.0251, -18.71), (0.0287, -19.03), (0.0318, -18.86), (0.0342, -19.21),
    (0.0366, -18.98), (0.0395, -19.33), (0.0418, -19.09), (0.0447, -18.89), (0.0471, -19.26), (0.0493, -19.48),
    (0.0188, -19.37), (0.0224, -19.61), (0.0263, -19.43), (0.0301, -19.66), (0.0336, -19.88), (0.0372, -19.55),
    (0.0409, -20.14), (0.0437, -19.83), (0.0466, -20.27), (0.0172, -20.02), (0.0211, -20.24), (0.0249, -20.57),
    (0.0283, -20.38), (0.0326, -20.69), (0.0358, -20.52), (0.0392, -20.91), (0.0425, -20.43), (0.0161, -20.61),
    (0.0197, -20.95), (0.0236, -21.17), (0.0268, -20.99), (0.0309, -21.28), (0.0343, -21.12), (0.0152, -21.31),
    (0.0188, -21.63), (0.0221, -21.41), (0.0259, -21.72), (0.0292, -21.58), (0.0139, -21.88), (0.0173, -22.12),
    (0.0207, -21.96), (0.0243, -22.21), (0.0128, -22.33), (0.0161, -22.58), (0.0197, -22.45), (0.0112, -22.77),
    (0.0146, -23.02), (0.0098, -23.18), (0.0121, -23.29), (0.0542, -19.33), (0.0586, -19.74), (0.0631, -20.18),
    (0.0517, -20.04), (0.0481, -20.58), (0.0569, -20.45), (0.0455, -21.24), (0.0412, -21.46), (0.0384, -22.02),
    (0.0135, -18.58), (0.0172, -18.63), (0.0214, -18.59), (0.0258, -18.65), (0.0297, -18.61), (0.0341, -18.68),
    (0.0389, -18.64), (0.0436, -18.70), (0.0125, -18.83), (0.0158, -18.89), (0.0196, -18.81), (0.0239, -18.93),
    (0.0276, -18.86), (0.0322, -18.97), (0.0371, -18.90), (0.0414, -19.01), (0.0462, -18.94), (0.0131, -19.11),
    (0.0167, -19.18), (0.0208, -19.07), (0.0249, -19.22), (0.0293, -19.12), (0.0335, -19.27), (0.0384, -19.16),
    (0.0431, -19.31), (0.0142, -19.38), (0.0176, -19.45), (0.0219, -19.33), (0.0261, -19.50), (0.0308, -19.39),
    (0.0352, -19.56), (0.0405, -19.44), (0.0137, -19.65), (0.0171, -19.71), (0.0212, -19.60), (0.0253, -19.77),
    (0.0296, -19.68), (0.0344, -19.83), (0.0391, -19.72), (0.0146, -19.93), (0.0182, -20.00), (0.0221, -19.89),
    (0.0262, -20.06), (0.0305, -19.96), (0.0356, -20.13), (0.0139, -20.25), (0.0176, -20.33), (0.0215, -20.21),
    (0.0257, -20.37), (0.0299, -20.28), (0.0132, -20.53), (0.0168, -20.60), (0.0206, -20.49), (0.0246, -20.66),
    (0.0289, -20.57), (0.0127, -20.83), (0.0160, -20.91), (0.0198, -20.79), (0.0236, -20.96), (0.0119, -21.16),
    (0.0152, -21.22), (0.0187, -21.10), (0.0110, -21.45), (0.0143, -21.52), (0.0174, -21.40), (0.0102, -21.75),
    (0.0133, -21.84), (0.0092, -22.05), (0.0124, -22.10), (0.0085, -22.40), (0.0110, -22.52), (0.0076, -22.70),
    (0.0098, -22.85), (0.0066, -23.00), (0.0084, -23.12), (0.0058, -23.28),
]

red_sparse = [
    (0.0274, -19.53), (0.0379, -19.71), (0.0514, -19.56), (0.0608, -19.61), (0.0473, -19.71), (0.0538, -19.81),
    (0.0579, -19.85), (0.0414, -19.90), (0.0555, -19.94), (0.0673, -20.02), (0.0708, -20.02), (0.0755, -19.93),
    (0.0579, -20.07), (0.0790, -20.05), (0.0849, -20.12), (0.0866, -20.16), (0.0784, -20.22), (0.0814, -20.30),
    (0.0702, -20.42), (0.0626, -20.41), (0.0561, -20.32), (0.0508, -20.49), (0.0520, -20.60), (0.0602, -20.64),
    (0.0544, -20.73), (0.0479, -20.73), (0.0708, -20.80), (0.0544, -20.89), (0.0590, -20.97), (0.0649, -21.02),
    (0.0684, -21.00), (0.0608, -21.05), (0.0614, -21.14), (0.0544, -21.08), (0.0555, -21.23), (0.0590, -21.25),
    (0.0508, -21.02), (0.0438, -20.98), (0.0379, -21.00), (0.0356, -21.34), (0.0379, -21.42), (0.0320, -21.54),
    (0.0344, -21.53), (0.0391, -21.73), (0.0479, -21.59), (0.0461, -21.81), (0.0520, -21.81), (0.0620, -21.67),
    (0.0720, -21.51), (0.0796, -21.61), (0.0896, -21.84), (0.0297, -22.07), (0.0508, -22.10), (0.0238, -22.27),
    (0.0256, -22.37), (0.0209, -22.40), (0.0144, -22.51), (0.0414, -22.61), (0.0121, -22.74), (0.0156, -22.82),
    (0.0185, -22.91), (0.0367, -22.88), (0.1037, -22.23), (0.1089, -22.66), (0.1060, -21.59), (0.1043, -21.00),
    (0.1101, -20.86), (0.1107, -20.91), (0.0966, -20.56), (0.0919, -20.80), (0.1037, -20.40), (0.1107, -20.40),
    (0.1142, -20.36), (0.1178, -20.41), (0.1066, -20.15), (0.0907, -20.05), (0.0925, -20.05), (0.0902, -19.93),
    (0.0778, -19.68), (0.0949, -19.68), (0.1242, -20.47), (0.1254, -20.61), (0.1236, -19.93), (0.1336, -21.00),
    (0.1424, -20.73), (0.1512, -20.58), (0.1553, -21.95), (0.1401, -19.98), (0.1459, -19.84), (0.1524, -20.18),
    (0.1541, -20.02), (0.1571, -19.37), (0.1700, -20.33), (0.1723, -20.71), (0.1424, -19.65), (0.1107, -19.68),
    (0.0825, -18.95), (0.1524, -18.90), (0.1606, -19.00), (0.1671, -19.12), (0.1330, -20.01), (0.0919, -19.34),
    (0.0820, -19.45), (0.185, -20.95), (0.178, -21.10), (0.195, -19.80),
    (0.2103, -19.15), (0.2387, -19.66), (0.2287, -19.81), (0.2492, -19.44), (0.2093, -19.95), (0.2140, -20.12),
    (0.2768, -19.37), (0.2821, -19.34), (0.2751, -19.78), (0.2751, -19.88), (0.2924, -18.51), (0.3044, -18.59),
    (0.2985, -18.14), (0.3073, -18.02), (0.3173, -19.58), (0.3349, -19.61), (0.3461, -20.08), (0.3009, -20.22),
    (0.2063, -23.51), (0.2391, -20.50), (0.2417, -20.46), (0.2618, -20.59), (0.2771, -20.71), (0.2780, -20.78),
    (0.2885, -20.57), (0.2889, -21.90), (0.3099, -21.60), (0.3191, -21.42), (0.3680, -21.15), (0.3754, -21.46),
    (0.3846, -20.44), (0.4100, -20.48), (0.4576, -21.25), (0.4694, -21.86), (0.4382, -18.79), (0.4852, -19.07),
    (0.4235, -19.42), (0.4417, -19.98), (0.4605, -20.17),
]

# ---- style ----
sns.set_style('white')
plt.rcParams['font.family'] = ['Liberation Sans', 'DejaVu Sans']
plt.rcParams['mathtext.fontset'] = 'custom'
plt.rcParams['mathtext.rm'] = 'Liberation Sans'
plt.rcParams['mathtext.it'] = 'Liberation Sans:italic'
plt.rcParams['mathtext.bf'] = 'Liberation Sans:bold'
plt.rcParams['lines.scale_dashes'] = False

BLUE = '#0000ff'
RED = '#ff0000'
LINE_GREEN = '#2ee82e'
TEXT_GREEN = '#00b050'
PAD_BEIGE = '#eaeee0'
DOT = 30


def to_frame(points):
    df = pd.DataFrame(points, columns=['dek', 'log_br'])
    df['br'] = 10.0 ** df['log_br']
    return df


fig = plt.figure(figsize=(19.46, 16.73), dpi=100)
fig.patch.set_facecolor(PAD_BEIGE)
fig.add_artist(Rectangle((0, 0), 45 / 1946, 1, transform=fig.transFigure,
                         facecolor='white', edgecolor='none', zorder=-5))
fig.add_artist(Rectangle((173 / 1946, 0), 1701 / 1946, 1616 / 1673, transform=fig.transFigure,
                         facecolor='white', edgecolor='none', zorder=-5))

ax = fig.add_axes([391 / 1946, 144 / 1673, 1473 / 1946, 1473 / 1673])
ax.set_facecolor('white')
ax.set_yscale('log')

y_lo, y_hi = 10.0 ** exp_range[0], 10.0 ** exp_range[1]
sindrum = 10.0 ** sindrum_exp
mu3e = 10.0 ** mu3e_exp

# excluded / bounded regions
ax.fill_between([0, x_range[1]], sindrum, y_hi, color='#e0ffe0', lw=0, zorder=0.5)
ax.fill_between([x_cut_lines[1], x_range[1]], y_lo, sindrum, color='#d9d9d9', lw=0, zorder=0.5)

# red cloud
ax.fill_betweenx([10.0 ** e for e in red_core_exp], -0.0008, red_core_right, color=RED, lw=0, zorder=2)
for pts in (red_near, red_sparse):
    sns.scatterplot(data=to_frame(pts), x='dek', y='br', color=RED, s=DOT, linewidth=0, ax=ax, zorder=2.1)

# blue cloud
ax.fill_between(blue_core_x, [10.0 ** e for e in blue_core_top], [10.0 ** e for e in blue_core_bot],
                color=BLUE, lw=0, zorder=2.5)
blue_sets = [blue_edge_upper, blue_edge_lower, blue_sparse_near, blue_band_far, blue_outer_far,
             list(zip(blue_mid_x1, blue_mid_exp1)), list(zip(blue_mid_x2, blue_mid_exp2)),
             list(zip(blue_mid_x3, blue_mid_exp3)),
             list(zip(blue_far_x1, blue_far_exp1)), list(zip(blue_far_x2, blue_far_exp2)),
             list(zip(blue_far_x3, blue_far_exp3))]
for pts in blue_sets:
    sns.scatterplot(data=to_frame(pts), x='dek', y='br', color=BLUE, s=DOT, linewidth=0, ax=ax, zorder=2.6)

# experimental bounds
ax.plot([0, x_range[1]], [sindrum, sindrum], color=LINE_GREEN, lw=2.9, zorder=3)
ax.plot([0, x_range[1]], [mu3e, mu3e], color=LINE_GREEN, lw=7.2, linestyle=(0, (34.5, 31.7)), zorder=3)

# vertical cuts on |delta eps_K|
ax.plot([x_cut_lines[0]] * 2, [y_hi, y_lo], color='black', lw=4.7, zorder=4,
        linestyle=(7.2, (31.0, 32.4)))
ax.plot([x_cut_lines[1]] * 2, [y_hi, y_lo], color='black', lw=4.8, zorder=4)
ax.plot([x_cut_lines[2]] * 2, [y_hi, y_lo], color='black', lw=4.3, zorder=4,
        linestyle=(7.0, (9.2, 12.2)))

ax.text(0.329, 10.0 ** -11.83, 'SINDRUM', color=TEXT_GREEN, fontsize=47, ha='left', va='baseline', zorder=5)
ax.text(0.329, 10.0 ** -15.76, 'Mu3e', color=TEXT_GREEN, fontsize=47, ha='left', va='baseline', zorder=5)

# axes, ticks, labels
ax.set_xlim(*x_range)
ax.set_ylim(y_lo, y_hi)
ax.xaxis.set_major_locator(FixedLocator(x_ticks))
ax.xaxis.set_major_formatter(FixedFormatter(x_tick_labels))
ax.xaxis.set_minor_locator(FixedLocator([i * 0.02 for i in range(26)]))
ax.yaxis.set_major_locator(FixedLocator([10.0 ** e for e in y_tick_exps]))
ax.yaxis.set_major_formatter(FixedFormatter(y_tick_labels))
ax.yaxis.set_minor_locator(FixedLocator([10.0 ** e for e in range(-23, -9)]))
ax.yaxis.set_minor_formatter(NullFormatter())

ax.tick_params(which='both', direction='in', top=True, right=True, color='#555555', width=1.3)
ax.tick_params(axis='x', which='major', length=8, pad=8.5, labelsize=38)
ax.tick_params(axis='x', which='minor', length=5)
ax.tick_params(axis='y', which='major', length=9, pad=7.5, labelsize=38)
ax.tick_params(axis='y', which='minor', length=5.5)
for side in ax.spines.values():
    side.set_visible(True)
    side.set_color('#4d4d4d')
    side.set_linewidth(1.6)

ax.set_xlabel(r'$|\delta\varepsilon_K|$', fontsize=43)
ax.set_ylabel('BR($\\mu$→3e)', fontsize=45)
ax.xaxis.set_label_coords(0.497, -0.055)
ax.yaxis.set_label_coords(-0.1018, 0.5)

fig.savefig('out.png', dpi=100, facecolor=fig.get_facecolor())
